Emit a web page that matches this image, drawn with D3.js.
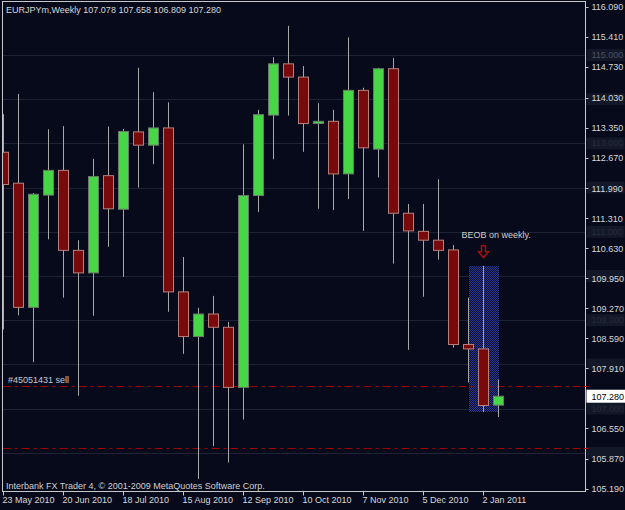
<!DOCTYPE html>
<html>
<head>
<meta charset="utf-8" />
<title>EURJPYm Weekly</title>
<script src="https://cdn.jsdelivr.net/npm/d3@7/dist/d3.min.js"></script>
<style>
  body { margin: 0; background: #060a1a; }
  svg text { font-family: "Liberation Sans", Arial, sans-serif; font-size: 9px; }
</style>
</head>
<body>
<div id="chart"></div>
<script>
// weekly candles, first one = 23 May 2010
var opens  = [112.80,112.10,109.29,111.83,112.39,110.58,110.07,112.27,111.51,113.26,112.96,113.35,109.64,108.63,109.14,108.84,107.48,111.82,113.64,114.80,114.50,113.45,113.50,112.31,114.20,112.87,114.69,111.42,111.01,110.81,110.59,108.45,108.35,107.078];
var highs  = [113.66,114.12,111.88,113.32,113.39,110.81,112.65,113.38,113.33,114.71,114.16,113.93,110.43,109.28,109.55,108.96,112.98,113.76,114.95,115.66,114.75,113.91,113.76,115.40,114.26,114.71,114.93,111.63,111.63,112.19,110.70,109.51,110.23,107.658];
var lows   = [108.79,109.11,108.05,110.83,109.51,107.29,109.10,110.66,109.98,112.00,112.53,109.19,108.24,105.41,106.15,105.78,106.75,111.45,112.64,113.63,112.81,111.52,111.49,111.74,111.02,112.23,110.28,108.33,109.53,110.37,108.38,107.59,106.92,106.809];
var closes = [112.07,109.29,111.85,112.39,110.58,110.07,112.25,111.52,113.27,112.96,113.35,109.64,108.63,109.14,108.84,107.48,111.82,113.65,114.80,114.50,113.45,113.50,112.31,114.20,112.90,114.69,111.42,111.02,110.81,110.58,108.45,108.35,107.07,107.280];

var xTickIdx = [0,4,8,12,16,20,24,28,32];
var xTickLabels = ["23 May 2010","20 Jun 2010","18 Jul 2010","15 Aug 2010","12 Sep 2010","10 Oct 2010","7 Nov 2010","5 Dec 2010","2 Jan 2011"];
var yTicks = [116.090,115.410,114.730,114.030,113.350,112.670,111.990,111.310,110.630,109.950,109.270,108.590,107.910,106.550,105.870,105.190];
var gridLevels = [115,114,113,112,111,110,109,108,107,106];
var orderLevels = [107.52,106.10];
var lastPrice = 107.280;

var W = 625, H = 510;
var plotL = 2.5, plotR = 585.5, plotT = 1.5, plotB = 491.5;

var svg = d3.select('#chart').append('svg')
  .attr('width', W).attr('height', H);

svg.append('rect').attr('width', W).attr('height', H).attr('fill', '#060a1a');

var x = d3.scaleLinear().domain([0, 33]).range([3.3, 498.3]);
var y = d3.scaleLinear().domain([115, 105]).range([55, 497]);

var defs = svg.append('defs');
defs.append('clipPath').attr('id', 'plot')
  .append('rect').attr('x', plotL + 0.5).attr('y', plotT + 0.5)
  .attr('width', plotR - plotL - 1).attr('height', plotB - plotT - 1);
var pat = defs.append('pattern').attr('id', 'dots')
  .attr('width', 2).attr('height', 2).attr('patternUnits', 'userSpaceOnUse');
pat.append('rect').attr('width', 2).attr('height', 2).attr('fill', '#0a0e2c');
pat.append('rect').attr('x', 0).attr('y', 0).attr('width', 1).attr('height', 1).attr('fill', '#2a3894');
pat.append('rect').attr('x', 1).attr('y', 1).attr('width', 1).attr('height', 1).attr('fill', '#2a3894');

var g = svg.append('g').attr('clip-path', 'url(#plot)');

// faint level grid
g.selectAll('.grid').data(gridLevels).enter().append('line')
  .attr('x1', plotL).attr('x2', plotR)
  .attr('y1', function(d){ return Math.round(y(d)) + 0.5; })
  .attr('y2', function(d){ return Math.round(y(d)) + 0.5; })
  .attr('stroke', '#1c2334').attr('stroke-width', 1);

// marked zone around the bearish engulfing candle
g.append('rect')
  .attr('x', Math.round(x(31)) + 1).attr('width', Math.round(x(33) - x(31)))
  .attr('y', Math.round(y(highs[32]))).attr('height', Math.round(y(lows[32]) - y(highs[32])))
  .attr('fill', 'url(#dots)');

// order levels
g.selectAll('.lvl').data(orderLevels).enter().append('line')
  .attr('x1', plotL).attr('x2', plotR)
  .attr('y1', function(d){ return Math.round(y(d)) + 0.5; })
  .attr('y2', function(d){ return Math.round(y(d)) + 0.5; })
  .attr('stroke', '#a00000').attr('stroke-width', 1)
  .attr('stroke-dasharray', '8,4,3,4');

var idx = d3.range(opens.length);

// wicks
g.selectAll('.wick').data(idx).enter().append('line')
  .attr('x1', function(i){ return Math.round(x(i)) + 0.5; })
  .attr('x2', function(i){ return Math.round(x(i)) + 0.5; })
  .attr('y1', function(i){ return y(highs[i]); })
  .attr('y2', function(i){ return y(lows[i]); })
  .attr('stroke', '#a8a8a8').attr('stroke-width', 1);

// bodies
g.selectAll('.body').data(idx).enter().append('rect')
  .attr('x', function(i){ return Math.round(x(i)) - 4.5; })
  .attr('width', 10)
  .attr('y', function(i){ return y(Math.max(opens[i], closes[i])); })
  .attr('height', function(i){ return Math.max(2, Math.abs(y(opens[i]) - y(closes[i]))); })
  .attr('fill', function(i){ return closes[i] >= opens[i] ? '#46d646' : '#780a0c'; })
  .attr('stroke', function(i){ return closes[i] >= opens[i] ? '#6a7a6a' : '#b8807a'; })
  .attr('stroke-width', 1);

// frame
svg.append('rect')
  .attr('x', plotL).attr('y', plotT)
  .attr('width', plotR - plotL).attr('height', plotB - plotT)
  .attr('fill', 'none').attr('stroke', '#c8c8c8').attr('stroke-width', 1);

// dim round-level labels on the price axis
svg.selectAll('.glab').data(gridLevels).enter().append('rect')
  .attr('x', plotR + 1).attr('y', function(d){ return y(d) - 6; })
  .attr('width', 38).attr('height', 12).attr('fill', '#121828');
svg.selectAll('.gtxt').data(gridLevels.filter(function(d){
    return d3.min(yTicks, function(t){ return Math.abs(y(t) - y(d)); }) > 10;
  })).enter().append('text')
  .attr('x', plotR + 6).attr('y', function(d){ return y(d) + 3; })
  .attr('fill', function(d){ return d === 115 ? '#4a5264' : '#262c3c'; })
  .text(function(d){ return d.toFixed(3); });

// price axis
var yAxis = svg.append('g');
yAxis.selectAll('.tk').data(yTicks).enter().append('line')
  .attr('x1', plotR).attr('x2', plotR + 3)
  .attr('y1', function(d){ return Math.round(y(d)) + 0.5; })
  .attr('y2', function(d){ return Math.round(y(d)) + 0.5; })
  .attr('stroke', '#c8c8c8');
yAxis.selectAll('.tl').data(yTicks).enter().append('text')
  .attr('x', plotR + 6).attr('y', function(d){ return y(d) + 3.5; })
  .attr('fill', '#d8d8d8').text(function(d){ return d.toFixed(3); });

// order level markers on axis
svg.selectAll('.om').data(orderLevels).enter().append('line')
  .attr('x1', plotR - 2).attr('x2', plotR + 3)
  .attr('y1', function(d){ return Math.round(y(d)) + 0.5; })
  .attr('y2', function(d){ return Math.round(y(d)) + 0.5; })
  .attr('stroke', '#c00000');

// current price label
svg.append('rect')
  .attr('x', plotR + 1).attr('y', y(lastPrice) - 6.5)
  .attr('width', 39).attr('height', 13).attr('fill', '#ffffff');
svg.append('text')
  .attr('x', plotR + 6).attr('y', y(lastPrice) + 3.5)
  .attr('fill', '#000000').text(lastPrice.toFixed(3));

// time axis
var xAxis = svg.append('g');
xAxis.selectAll('.xt').data(xTickIdx).enter().append('line')
  .attr('x1', function(i){ return Math.round(x(i)) + 0.5; })
  .attr('x2', function(i){ return Math.round(x(i)) + 0.5; })
  .attr('y1', plotB).attr('y2', plotB + 4)
  .attr('stroke', '#c8c8c8');
xAxis.selectAll('.xl').data(xTickIdx).enter().append('text')
  .attr('x', function(i){ return Math.round(x(i)) - 0.5; })
  .attr('y', 503)
  .attr('fill', '#d8d8d8')
  .text(function(d, j){ return xTickLabels[j]; });

// texts
svg.append('text').attr('x', 6).attr('y', 13).attr('fill', '#d8d8d8')
  .text('EURJPYm,Weekly  107.078 107.658 106.809 107.280');
svg.append('text').attr('x', 6).attr('y', 489).attr('fill', '#d0d0d0')
  .text('Interbank FX Trader 4, \u00a9 2001-2009 MetaQuotes Software Corp.');
svg.append('text').attr('x', 8).attr('y', y(orderLevels[0]) - 3).attr('fill', '#c8ccd8')
  .text('#45051431 sell');

// annotation
var ax = Math.round(x(32)) + 0.5, ay = y(highs[32]) - 20;
svg.append('text').attr('x', ax - 22).attr('y', ay - 8).attr('fill', '#d0d0d0')
  .text('BEOB on weekly.');
svg.append('path')
  .attr('d', 'M' + (ax - 2) + ',' + ay + 'h4v6h3l-5,6l-5,-6h3z')
  .attr('fill', 'none').attr('stroke', '#a01010').attr('stroke-width', 1.5);
</script>
</body>
</html>
